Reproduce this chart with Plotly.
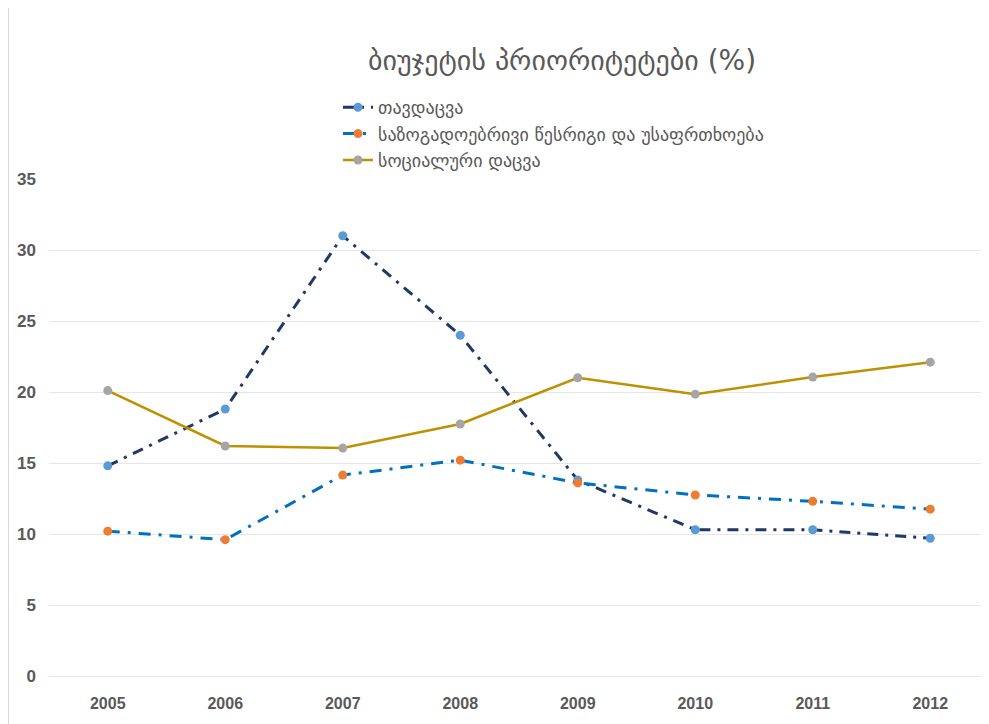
import plotly.graph_objects as go

years = ["2005", "2006", "2007", "2008", "2009", "2010", "2011", "2012"]
defense = [14.8, 18.8, 31.0, 24.0, 13.8, 10.3, 10.3, 9.7]
public_order = [10.2, 9.6, 14.15, 15.2, 13.6, 12.75, 12.3, 11.75]
social = [20.1, 16.2, 16.05, 17.75, 21.0, 19.85, 21.05, 22.1]

names = ["თავდაცვა", "საზოგადოებრივი წესრიგი და უსაფრთხოება", "სოციალური დაცვა"]
title_text = "ბიუჯეტის პრიორიტეტები (%)"

OFF = 8  # page body margin
W, H = 989 - OFF, 724 - OFF
L, R, T, B = 49 - OFF, 0, 179 - OFF, 48

TICKFONT = "Liberation Sans, Arial, sans-serif"
GEO = "DejaVu Sans, sans-serif"

fig = go.Figure()
fig.add_trace(go.Scatter(x=years, y=defense, name=names[0], mode="lines+markers",
                         line=dict(color="#203864", width=3, dash="11px,7px,3px,7px"),
                         marker=dict(color="#5B9BD5", size=9)))
fig.add_trace(go.Scatter(x=years, y=public_order, name=names[1], mode="lines+markers",
                         line=dict(color="#0070C0", width=3, dash="12px,8px,3px,8px"),
                         marker=dict(color="#ED7D31", size=9)))
fig.add_trace(go.Scatter(x=years, y=social, name=names[2], mode="lines+markers",
                         line=dict(color="#BF9000", width=2.5),
                         marker=dict(color="#A5A5A5", size=9)))

pw = W - L - R
ph = H - T - B

# target pixel coordinates given in reference (window) pixels
def px_x(p):
    return (p - OFF - L) / pw

def px_y(p):
    return (H - B - (p - OFF)) / ph

fig.update_layout(
    width=W, height=H,
    margin=dict(l=L, r=R, t=T, b=B, autoexpand=False),
    paper_bgcolor="white", plot_bgcolor="white",
    showlegend=True,
    legend=dict(x=px_x(338), y=px_y(89), xanchor="left", yanchor="top",
                font=dict(family=GEO, size=18, color="#595959"),
                bgcolor="rgba(0,0,0,0)", tracegroupgap=0, itemwidth=30),
    xaxis=dict(type="category", range=[-0.5, 7.5], showgrid=False, showline=False, zeroline=False,
               ticks="", tickfont=dict(family=TICKFONT, size=16, color="#595959", weight=700),
               ticklabelstandoff=16),
    yaxis=dict(range=[0, 35], dtick=5, showgrid=True, gridcolor="#E6E6E6", gridwidth=1,
               zeroline=True, zerolinecolor="#E6E6E6", zerolinewidth=1, showline=False, ticks="",
               tickfont=dict(family=TICKFONT, size=17, color="#595959", weight=700),
               ticklabelstandoff=12),
    annotations=[dict(text=title_text, xref="paper", yref="paper", x=px_x(562), y=px_y(60),
                      xanchor="center", yanchor="middle", showarrow=False,
                      font=dict(family=GEO, size=28, color="#595959"))],
    shapes=[dict(type="line", xref="paper", yref="paper", x0=px_x(8.5), x1=px_x(8.5),
                 y0=px_y(724), y1=px_y(8), line=dict(color="#D9D9D9", width=1))],
)

fig.write_html("out.html")
